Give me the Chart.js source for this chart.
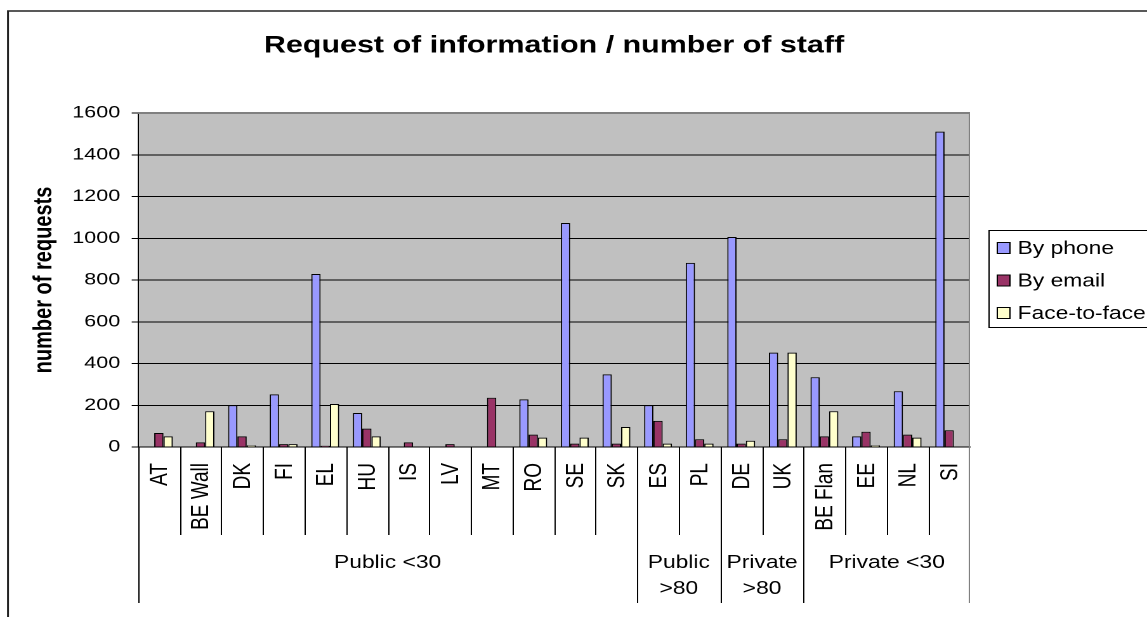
<!DOCTYPE html>
<html>
<head>
<meta charset="utf-8">
<title>Request of information / number of staff</title>
<script src="https://cdn.jsdelivr.net/npm/chart.js@4.4.1/dist/chart.umd.min.js"></script>
<style>
  html, body { margin: 0; padding: 0; background: #fff; overflow: hidden; }
  /* the sheet chart is drawn narrow and widened, like the exported picture */
  #wrap { width: 904px; height: 617px; transform: scaleX(1.2688); transform-origin: 0 0; }
</style>
</head>
<body>
<div id="wrap"><canvas id="requests" width="904" height="617"></canvas></div>
<script>
const chartTitle = 'Request of information / number of staff';
const categories = ['AT', 'BE Wall', 'DK', 'FI', 'EL', 'HU', 'IS', 'LV', 'MT', 'RO', 'SE', 'SK',
                    'ES', 'PL', 'DE', 'UK', 'BE Flan', 'EE', 'NL', 'SI'];
const groups = [['Public <30'], ['Public', '>80'], ['Private', '>80'], ['Private <30']];
const groupSizes = [12, 2, 2, 4];

const byPhone    = [null, null, 200, 252, 829, 163, null, null, null, 228, 1073, 348, 200, 882, 1006, 452, 334, 51, 267, 1511];
const byEmail    = [67, 22, 51, 14, 6, 88, 22, 14, 236, 59, 16, 16, 125, 37, 16, 37, 51, 73, 59, 80];
const faceToFace = [51, 171, 8, 14, 206, 51, null, null, null, 45, 45, 96, 16, 16, 30, 452, 171, 8, 45, null];

const yMax = 1600;
const yStep = 200;

const FONT = 'Arial, "Liberation Sans", sans-serif';
Chart.defaults.font.family = FONT;
Chart.defaults.color = '#000';

// grey plot background, outer frame and the title over the plot
const plotFrame = {
  id: 'plotFrame',
  beforeDraw(chart) {
    const { ctx, chartArea: a } = chart;
    ctx.save();
    ctx.fillStyle = '#c0c0c0';
    ctx.fillRect(a.left, a.top, a.right - a.left, a.bottom - a.top);
    ctx.strokeStyle = '#222';
    ctx.lineWidth = 1.5;
    ctx.strokeRect(6.3, 11, chart.width + 20, chart.height + 20);
    ctx.fillStyle = '#000';
    ctx.font = 'bold 24px ' + FONT;
    ctx.textAlign = 'center';
    ctx.textBaseline = 'middle';
    ctx.fillText(chartTitle, (a.left + a.right) / 2, 46);
    ctx.restore();
  },
  afterDatasetsDraw(chart) {
    const { ctx, chartArea: a } = chart;
    ctx.save();
    ctx.strokeStyle = '#808080';
    ctx.lineWidth = 1;
    ctx.beginPath();
    ctx.moveTo(a.left, a.top + 0.5);
    ctx.lineTo(a.right - 0.5, a.top + 0.5);
    ctx.lineTo(a.right - 0.5, a.bottom);
    ctx.stroke();
    ctx.restore();
  }
};

// two-level category axis: country codes, then the staff groups
const groupedAxis = {
  id: 'groupedAxis',
  afterDraw(chart) {
    const { ctx, chartArea: a } = chart;
    const x = chart.scales.x;
    const step = x.getPixelForValue(1) - x.getPixelForValue(0);
    const tickBottom = 535, groupBottom = 603;
    ctx.save();
    ctx.lineWidth = 1;

    // dividers between categories
    ctx.strokeStyle = '#000';
    ctx.beginPath();
    for (let i = 1; i < categories.length; i++) {
      const px = Math.round(x.getPixelForValue(i) - step / 2) + 0.5;
      ctx.moveTo(px, a.bottom);
      ctx.lineTo(px, tickBottom);
    }
    ctx.stroke();

    // group dividers run down to the bottom row
    let start = 0;
    const edges = [0];
    groupSizes.forEach(n => { start += n; edges.push(start); });
    ctx.beginPath();
    edges.slice(0, -1).forEach(idx => {
      const px = Math.round(x.getPixelForValue(idx) - step / 2) + 0.5;
      ctx.moveTo(px, a.bottom);
      ctx.lineTo(px, groupBottom);
    });
    ctx.stroke();
    ctx.strokeStyle = '#808080';
    ctx.beginPath();
    ctx.moveTo(a.right - 0.5, a.bottom);
    ctx.lineTo(a.right - 0.5, groupBottom);
    ctx.stroke();

    // rotated country labels
    ctx.fillStyle = '#000';
    ctx.font = '19px ' + FONT;
    ctx.textAlign = 'right';
    ctx.textBaseline = 'middle';
    categories.forEach((label, i) => {
      ctx.save();
      ctx.translate(x.getPixelForValue(i) + 1, a.bottom + 16);
      ctx.rotate(-Math.PI / 2);
      ctx.fillText(label, 0, 0);
      ctx.restore();
    });

    // group names centred under their span
    ctx.font = '18px ' + FONT;
    ctx.textAlign = 'center';
    groups.forEach((lines, g) => {
      const l = x.getPixelForValue(edges[g]) - step / 2;
      const r = x.getPixelForValue(edges[g + 1] - 1) + step / 2;
      lines.forEach((t, k) => ctx.fillText(t, (l + r) / 2, 563 + k * 26));
    });
    ctx.restore();
  }
};

// boxed legend on the right
const boxedLegend = {
  id: 'boxedLegend',
  afterDraw(chart) {
    const ctx = chart.ctx;
    ctx.save();
    ctx.strokeStyle = '#000';
    ctx.lineWidth = 1;
    ctx.strokeRect(779.5, 230.5, 140, 97);
    ctx.font = '18px ' + FONT;
    ctx.textBaseline = 'middle';
    ctx.textAlign = 'left';
    chart.data.datasets.forEach((ds, i) => {
      const cy = 248 + i * 32.5;
      ctx.fillStyle = ds.backgroundColor;
      ctx.fillRect(786, cy - 5.5, 10, 11);
      ctx.strokeRect(786, cy - 5.5, 10, 11);
      ctx.fillStyle = '#000';
      ctx.fillText(ds.label, 802, cy + 1);
    });
    ctx.restore();
  }
};

const barStyle = { borderColor: '#000', borderWidth: 1, borderSkipped: 'bottom',
                   categoryPercentage: 0.67, barPercentage: 1 };

new Chart(document.getElementById('requests'), {
  type: 'bar',
  data: {
    labels: categories,
    datasets: [
      { label: 'By phone', data: byPhone, backgroundColor: '#9999ff', ...barStyle },
      { label: 'By email', data: byEmail, backgroundColor: '#993366', ...barStyle },
      { label: 'Face-to-face', data: faceToFace, backgroundColor: '#ffffcc', ...barStyle }
    ]
  },
  options: {
    responsive: false,
    animation: false,
    devicePixelRatio: 2,
    layout: { padding: { left: 0, right: 139.5, top: 113, bottom: 0 } },
    plugins: {
      legend: { display: false },
      tooltip: { enabled: false },
      title: { display: false }
    },
    scales: {
      x: {
        ticks: { display: false },
        grid: { display: false },
        border: { display: true, color: '#000', width: 1 },
        afterFit(s) { s.height = 170; }
      },
      y: {
        min: 0,
        max: yMax,
        ticks: { stepSize: yStep, padding: 9, color: '#000', font: { size: 17 },
                 callback: v => String(v) },
        grid: { color: '#000', lineWidth: 1, tickLength: 5, drawTicks: true },
        border: { display: true, color: '#000', width: 1 },
        title: {
          display: true,
          text: 'number of requests',
          color: '#000',
          font: { size: 20, weight: 'bold' },
          padding: { top: 23, bottom: 0 }
        },
        afterFit(s) { s.width = 108.8; }
      }
    }
  },
  plugins: [plotFrame, groupedAxis, boxedLegend]
});
</script>
</body>
</html>
